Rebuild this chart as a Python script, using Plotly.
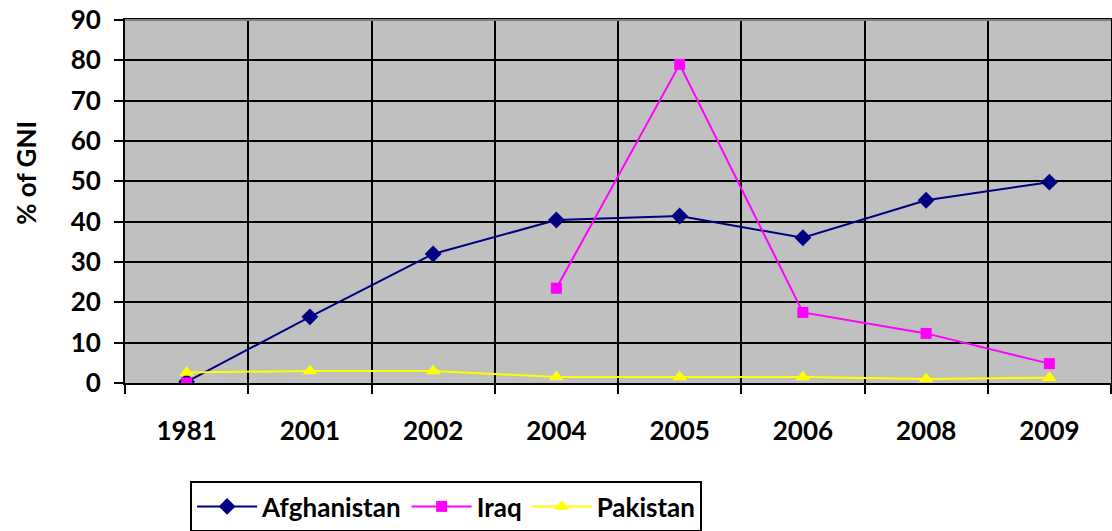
import plotly.graph_objects as go

years = ["1981", "2001", "2002", "2004", "2005", "2006", "2008", "2009"]
afghanistan = [0.3, 16.4, 32.0, 40.4, 41.4, 36.0, 45.3, 49.8]
iraq = [0.0, None, None, 23.5, 79.0, 17.5, 12.3, 4.8]
pakistan = [2.6, 3.0, 3.0, 1.5, 1.5, 1.5, 1.0, 1.3]
y_ticks = [0, 10, 20, 30, 40, 50, 60, 70, 80, 90]

FONT = "Lato"

fig = go.Figure()
fig.add_trace(go.Scatter(x=years, y=afghanistan, name="Afghanistan", mode="lines+markers",
                         line=dict(color="#000080", width=2),
                         marker=dict(symbol="diamond", size=13, color="#000080")))
fig.add_trace(go.Scatter(x=years, y=iraq, name="Iraq", mode="lines+markers",
                         line=dict(color="#FF00FF", width=2), connectgaps=False,
                         marker=dict(symbol="square", size=11, color="#FF00FF")))
fig.add_trace(go.Scatter(x=years, y=pakistan, name="Pakistan", mode="lines+markers",
                         line=dict(color="#FFFF00", width=2),
                         marker=dict(symbol="triangle-up", size=13, color="#FFFF00")))

fig.update_layout(
    width=1112, height=531,
    margin=dict(l=125, r=1, t=20, b=148, autoexpand=False),
    paper_bgcolor="white", plot_bgcolor="#C0C0C0",
    font=dict(family=FONT, size=26, color="black", weight="bold"),
    showlegend=True,
    legend=dict(orientation="h", x=0.066, y=-0.27, xanchor="left", yanchor="top",
                bordercolor="black", borderwidth=2, bgcolor="white",
                font=dict(family=FONT, size=26, color="black", weight="bold"),
                itemwidth=60, tracegroupgap=0),
    xaxis=dict(type="category", tickson="boundaries", showgrid=True, gridcolor="black", gridwidth=2,
               ticks="outside", ticklen=9, tickcolor="black", tickwidth=2,
               showline=True, linecolor="black", linewidth=2, mirror=True, automargin=False,
               tickfont=dict(family=FONT, size=26, color="black", weight="bold"),
               ticklabelstandoff=24, range=[-0.5, 7.5]),
    yaxis=dict(range=[0, 90], tickvals=y_ticks, showgrid=True, gridcolor="black", gridwidth=2,
               ticks="outside", ticklen=9, tickcolor="black", tickwidth=2,
               showline=True, linecolor="black", linewidth=2, mirror=True, automargin=False,
               tickfont=dict(family=FONT, size=26, color="black", weight="bold"),
               ticklabelstandoff=8, zeroline=False),
    annotations=[dict(text="% of GNI", textangle=-90, xref="paper", yref="paper",
                      x=-0.1, y=0.58, xanchor="center", yanchor="middle", showarrow=False,
                      font=dict(family=FONT, size=26, color="black", weight="bold"))],
)
fig.add_shape(type="line", xref="paper", yref="paper", x0=0, x1=1, y0=1, y1=1,
              line=dict(color="#808080", width=2))

fig.write_html("out.html", config={"displayModeBar": False},
               post_script="document.body.style.margin='0';document.body.style.overflow='hidden';")
